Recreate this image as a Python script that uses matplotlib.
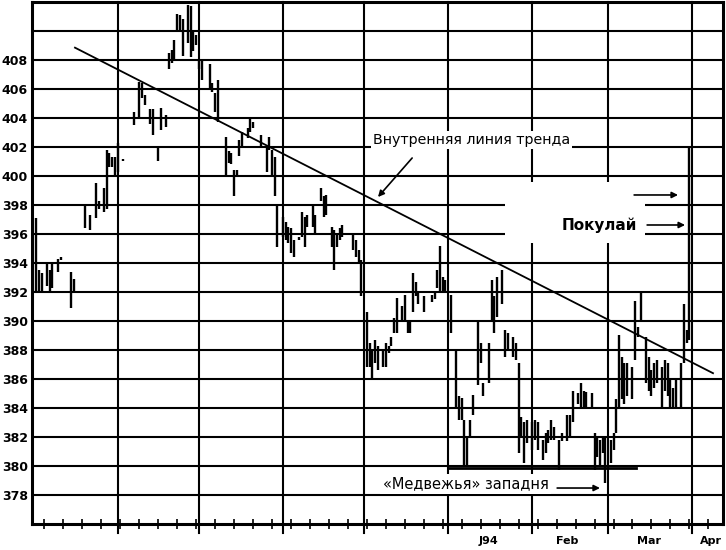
import numpy as np
import matplotlib.pyplot as plt
from matplotlib.patches import Rectangle

# x = calendar days counted from 1 Aug 1993
day = [1, 2, 3, 5, 6, 7, 9, 10, 14, 15, 19, 21, 23, 24, 26, 27, 28, 29, 30, 31, 33,
       36, 37, 39, 40, 41, 43, 44, 46, 47, 49, 50, 51, 52, 53, 54, 55, 57, 58, 59, 60,
       61, 62, 65, 66, 67, 68, 71, 72, 73, 74, 75, 76, 77, 79, 80, 81, 84, 86, 87, 88,
       89, 90, 92, 93, 94, 95, 96, 98, 99, 100, 101, 103, 104, 106, 107, 108, 110, 111,
       112, 113, 114, 118, 119, 120, 121, 123, 124, 125, 126, 127, 129, 130, 131, 132,
       133, 134, 136, 137, 138, 139, 140, 141, 142, 144, 147, 148, 149, 150, 151, 152,
       154, 156, 157, 158, 159, 160, 161, 162, 164, 165, 166, 168, 169, 170, 171, 173,
       174, 175, 177, 178, 179, 180, 181, 182, 184, 185, 186, 188, 189, 190, 191, 192,
       194, 195, 197, 198, 199, 201, 202, 203, 204, 206, 207, 208, 209, 210, 211, 213,
       214, 215, 216, 217, 218, 219, 221, 222, 223, 224, 226, 227, 228, 229, 230, 232,
       233, 234, 235, 236, 237, 239, 240, 241, 242]
high = [397.1, 393.5, 393.3, 394.1, 393.5, 393.9, 394.3, 394.4, 393.4, 392.9, 397.9,
        397.3, 399.5, 398.3, 399.2, 401.8, 401.6, 401.3, 401.3, 402.3, 401.2,
        402.1, 404.4, 406.5, 406.4, 405.6, 404.6, 404.6, 402.0, 404.7, 404.2, 408.5,
        408.7, 409.4, 411.2, 411.1, 410.8, 411.8, 411.7, 410.0, 409.7,
        408.0, 408.1, 407.7, 406.4, 405.7, 406.6, 402.7, 401.7, 401.6, 400.4, 400.4,
        402.5, 403.0, 403.3, 404.1, 403.7, 402.8, 402.0, 402.7, 401.8,
        401.3, 398.1, 397.2, 396.8, 396.5, 396.4, 395.6, 395.8, 397.5, 397.2, 397.3,
        397.9, 397.3, 399.2, 398.6, 398.7, 396.5, 396.3,
        396.1, 396.4, 396.6, 395.9, 395.6, 394.9, 394.2, 390.6, 388.5, 388.1, 388.7,
        388.3, 388.1, 388.5, 388.3, 388.9,
        390.2, 391.6, 391.0, 391.8, 389.9, 389.9, 393.3, 392.7, 392.1, 391.7, 391.8,
        392.1, 393.5, 395.2, 393.0, 392.8,
        391.8, 388.0, 384.8, 384.7, 383.2, 382.0, 383.2, 384.9, 390.0, 388.5, 385.7,
        388.5, 392.8, 391.7, 393.0, 393.5,
        389.4, 389.2, 388.9, 388.5, 387.1, 383.4, 383.0, 383.2, 383.0, 383.2, 383.0,
        381.8, 382.3, 382.5, 383.2, 382.7,
        381.8, 382.3, 383.5, 383.5, 385.2, 385.0, 385.7, 385.2, 385.1, 385.0, 382.3,
        382.0, 381.8, 381.9, 381.9, 381.8,
        382.3, 384.6, 389.0, 387.5, 387.1, 387.1, 386.8, 391.4, 389.6, 391.9, 388.9,
        387.5, 386.6, 387.1, 387.3, 386.8,
        387.3, 387.1, 385.9, 385.4, 385.9, 387.1, 391.2, 389.4, 402.0]
low = [392.1, 392.0, 392.1, 392.4, 392.0, 392.3, 393.4, 394.2, 390.9, 392.0, 396.4,
       396.3, 397.1, 397.7, 397.5, 397.7, 400.6, 400.6, 400.1, 400.3, 401.0,
       401.9, 403.5, 404.1, 405.4, 404.9, 403.6, 402.8, 401.0, 403.2, 403.4, 407.4,
       407.8, 408.1, 409.9, 409.9, 408.3, 409.2, 408.2, 408.6, 409.0,
       407.4, 406.6, 405.9, 405.8, 404.4, 403.7, 400.1, 400.9, 400.8, 398.6, 400.1,
       401.4, 402.0, 402.6, 403.0, 403.3, 401.9, 400.3, 401.8, 399.9,
       398.6, 395.1, 395.8, 395.6, 395.4, 394.7, 394.4, 395.6, 395.8, 395.1, 396.5,
       396.5, 396.1, 398.3, 397.2, 397.3, 395.1, 393.5,
       395.1, 395.6, 395.8, 394.9, 394.4, 394.0, 391.7, 386.8, 386.8, 386.1, 387.1,
       386.6, 386.8, 386.8, 387.8, 388.3,
       389.2, 389.2, 389.9, 389.9, 389.2, 389.2, 390.6, 391.7, 391.2, 390.6, 391.3,
       391.5, 392.3, 392.1, 392.0, 391.9,
       389.2, 384.1, 383.2, 383.2, 379.9, 379.9, 382.0, 383.5, 385.6, 387.1, 384.8,
       385.7, 390.1, 389.2, 390.3, 391.2,
       387.5, 388.0, 387.5, 387.3, 380.9, 382.0, 380.2, 381.6, 381.1, 381.8, 381.1,
       380.4, 380.9, 381.6, 381.8, 381.8,
       379.7, 381.7, 381.7, 382.0, 383.0, 384.3, 384.1, 384.1, 384.1, 384.1, 379.7,
       380.6, 380.0, 380.9, 378.8, 380.2,
       381.1, 382.3, 384.1, 384.6, 384.3, 384.8, 384.6, 387.3, 388.9, 389.9, 385.7,
       385.2, 384.8, 385.4, 385.7, 384.1,
       385.2, 384.8, 384.1, 384.1, 384.1, 384.1, 387.1, 388.5, 388.7]

month_start = [31, 61, 92, 122, 153, 184, 212, 243]
label_pos = [168, 197, 227, 250]
month_labels = ['J94', 'Feb', 'Mar', 'Apr']
price_labels = list(range(378, 410, 2))
grid_levels = list(range(378, 411, 2))

trend_x = [15.3, 250.7]
trend_y = [408.85, 386.4]
trap_x = [153, 222.3]
trap_y = [379.85, 379.85]

fig = plt.figure(figsize=(7.26, 5.5), dpi=100)
ax = fig.add_axes([0.0441, 0.0473, 0.9518, 0.9491])
ax.set_xlim(-0.55, 254.4)
ax.set_ylim(376, 412)

for lvl in grid_levels:
    ax.axhline(lvl, color='black', lw=1.5, zorder=1)
for m in month_start:
    ax.axvline(m, ymin=-0.018, ymax=1, color='black', lw=1.5, zorder=1, clip_on=False)

# blank area behind the buy arrows
ax.add_patch(Rectangle((174, 395.4), 51.6, 4.2, facecolor='white', edgecolor='none', zorder=2))

ax.vlines(day, low, high, color='black', lw=1.7, zorder=3)
ax.plot(trend_x, trend_y, color='black', lw=1.3, zorder=3)
ax.plot(trap_x, trap_y, color='black', lw=2.0, zorder=3)

aprops = dict(arrowstyle='-|>', color='black', lw=1.2, mutation_scale=9, shrinkA=0, shrinkB=0)
ax.text(125.3, 402.5, 'Внутренняя линия тренда', fontsize=10.3, ha='left', va='center', zorder=4,
        bbox=dict(facecolor='white', edgecolor='none', pad=1.5))
ax.annotate('', xy=(127.1, 398.55), xytext=(139.7, 401.24), arrowprops=aprops, zorder=4)
ax.annotate('', xy=(237.8, 398.69), xytext=(221.6, 398.69), arrowprops=aprops, zorder=4)
ax.text(208.7, 396.62, 'Покулай', fontsize=11, fontweight='bold', ha='center', va='center', zorder=4,
        bbox=dict(facecolor='white', edgecolor='none', pad=2))
ax.annotate('', xy=(240.4, 396.62), xytext=(226.4, 396.62), arrowprops=aprops, zorder=4)
ax.text(159.4, 378.76, '«Медвежья» западня', fontsize=10.5, ha='center', va='center', zorder=4,
        bbox=dict(facecolor='white', edgecolor='none', pad=2))
ax.annotate('', xy=(209.0, 378.48), xytext=(193.2, 378.48), arrowprops=aprops, zorder=4)

ax.set_yticks(price_labels)
ax.set_yticklabels([str(p) for p in price_labels], fontsize=9, fontweight='bold')
ax.tick_params(axis='y', length=0, pad=3)

ax.set_xticks(label_pos)
ax.set_xticklabels(month_labels, fontsize=8, fontweight='bold')
ax.tick_params(axis='x', which='major', length=0, pad=9)
ax.set_xticks(np.arange(4, 254, 7), minor=True)
ax.tick_params(axis='x', which='minor', direction='inout', length=7, width=1.2)

for s in ax.spines.values():
    s.set_linewidth(2.2)
    s.set_zorder(5)

fig.savefig('out.png', dpi=100)
